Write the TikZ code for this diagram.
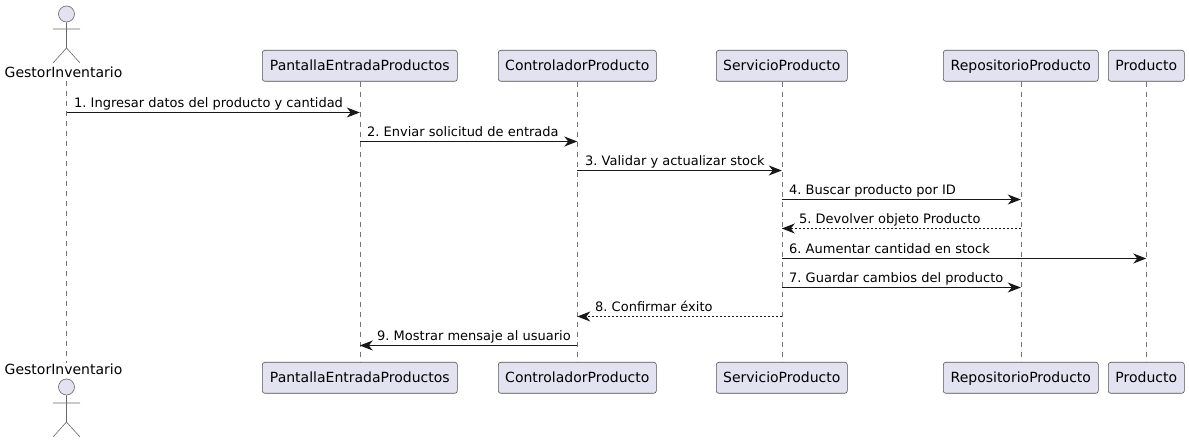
\documentclass[tikz,border=0pt]{standalone}
\usepackage{fontspec}
\setmainfont{DejaVu Sans}
\usetikzlibrary{arrows.meta}
\definecolor{pfill}{HTML}{E2E2F0}
\definecolor{pline}{HTML}{181818}
\frenchspacing
\tikzset{
  x=1pt,y=-1pt,
  every node/.style={font=\fontsize{14}{16}\selectfont,text=black},
  pbox/.style={draw=pline!75,fill=pfill,line width=.6pt,rounded corners=2.5pt,minimum height=31pt,inner sep=0pt,anchor=north west,text height=11.5pt,text depth=3pt},
  life/.style={draw=pline!60,line width=.5pt,dash pattern=on 5pt off 5pt},
  actorline/.style={draw=pline!65,line width=.6pt},
  head/.style={draw=pline!65,fill=pfill,line width=.6pt,circle,minimum size=16pt,inner sep=0pt},
  msg/.style={draw=pline,line width=1pt,-{Stealth[length=13pt,width=10pt,inset=4pt]}},
  ret/.style={msg,dash pattern=on 2pt off 2pt},
  lab/.style={anchor=base west,inner sep=0pt,font=\fontsize{13}{15}\selectfont},
}
\begin{document}
\begin{tikzpicture}
\useasboundingbox (0,0) rectangle (1189,443);
% participants, top
\node[pbox,minimum width=195pt] (pt) at (262,50) {PantallaEntradaProductos};
\node[pbox,minimum width=158pt] (ct) at (498,50) {ControladorProducto};
\node[pbox,minimum width=131pt] (st) at (716,50) {ServicioProducto};
\node[pbox,minimum width=155pt] (rt) at (943,50) {RepositorioProducto};
\node[pbox,minimum width=76pt] (dt) at (1108,50) {Producto};
% participants, bottom
\node[pbox,minimum width=195pt] (pb) at (262,362) {PantallaEntradaProductos};
\node[pbox,minimum width=158pt] (cb) at (498,362) {ControladorProducto};
\node[pbox,minimum width=131pt] (sb) at (716,362) {ServicioProducto};
\node[pbox,minimum width=155pt] (rb) at (943,362) {RepositorioProducto};
\node[pbox,minimum width=76pt] (db) at (1108,362) {Producto};
% actor top
\node[anchor=base,inner sep=0pt] (gt) at (63.5,78) {GestorInventario};
\node[head] (ht) at (66.5,14) {};
\draw[actorline] (ht.south) -- (66.5,48) -- (53,63) (66.5,48) -- (80,63) (53,29) -- (80,29);
% actor bottom
\node[anchor=base,inner sep=0pt] (gb) at (63.5,375) {GestorInventario};
\node[head] (hb) at (66.5,387) {};
\draw[actorline] (hb.south) -- (66.5,422) -- (53,437) (66.5,422) -- (80,437) (53,403) -- (80,403);
% lifelines
\coordinate (gta) at (66.5,81);
\coordinate (gba) at (66.5,363);
\draw[life] (gta) -- (gba);
\draw[life] (pt) -- (pb);
\draw[life] (ct) -- (cb);
\draw[life] (st) -- (sb);
\draw[life] (rt) -- (rb);
\draw[life] (dt) -- (db);
% message rows
\coordinate (r1) at (0,112.5); \coordinate (r2) at (0,141.5); \coordinate (r3) at (0,170.5);
\coordinate (r4) at (0,199.5); \coordinate (r5) at (0,228.5); \coordinate (r6) at (0,258.5);
\coordinate (r7) at (0,287.5); \coordinate (r8) at (0,316.5); \coordinate (r9) at (0,345.5);
\draw[msg] (gta |- r1) -- (pt |- r1);
\node[lab] at (74,108) {1. Ingresar datos del producto y cantidad};
\draw[msg] (pt |- r2) -- (ct |- r2);
\node[lab] at (367,137) {2. Enviar solicitud de entrada};
\draw[msg] (ct |- r3) -- (st |- r3);
\node[lab] at (585,166) {3. Validar y actualizar stock};
\draw[msg] (st |- r4) -- (rt |- r4);
\node[lab] at (789,195) {4. Buscar producto por ID};
\draw[ret] (rt |- r5) -- (st |- r5);
\node[lab] at (799,224) {5. Devolver objeto Producto};
\draw[msg] (st |- r6) -- (dt |- r6);
\node[lab] at (789,253.5) {6. Aumentar cantidad en stock};
\draw[msg] (st |- r7) -- (rt |- r7);
\node[lab] at (789,282.5) {7. Guardar cambios del producto};
\draw[ret] (st |- r8) -- (ct |- r8);
\node[lab] at (595,311.5) {8. Confirmar éxito};
\draw[msg] (ct |- r9) -- (pt |- r9);
\node[lab] at (377,340.5) {9. Mostrar mensaje al usuario};
\end{tikzpicture}
\end{document}
